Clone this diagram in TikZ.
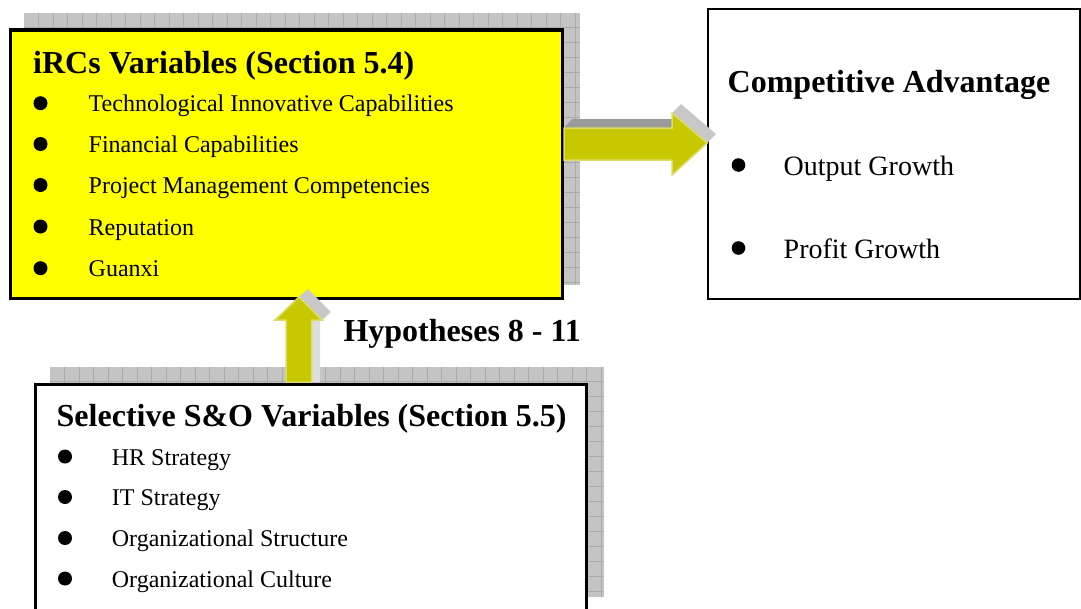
\documentclass[tikz,border=0pt]{standalone}
\usepackage{fontspec}
\setmainfont{Liberation Serif}
\definecolor{gridfill}{HTML}{C4C4C4}
\definecolor{gridline}{HTML}{ABABAB}
\definecolor{boxyellow}{HTML}{FFFF00}
\definecolor{arrowfill}{HTML}{C8C800}
\definecolor{arrowedge}{HTML}{DCDC66}
\definecolor{darkface}{HTML}{9A9A9A}
\definecolor{lightface}{HTML}{C8C8C8}
\definecolor{sideface}{HTML}{DEDEDE}
\begin{document}
\begin{tikzpicture}[x=1pt,y=-1pt,
  shadowgrid/.style={fill=gridfill},
  gridlines/.style={draw=gridline,line width=0.8pt},
  titletext/.style={anchor=base west,inner sep=0pt,font=\fontsize{32}{32}\selectfont\bfseries},
  itemtext/.style={anchor=base west,inner sep=0pt,font=\fontsize{24}{24}\selectfont},
  bigitem/.style={anchor=base west,inner sep=0pt,font=\fontsize{28}{28}\selectfont},
  bulletdot/.style={fill=black},
  arrowbody/.style={fill=arrowfill,draw=arrowedge,line width=1.5pt,line join=miter},
  boxbase/.style={rectangle,anchor=north west,inner sep=0pt,outer sep=0pt}]
\useasboundingbox (0,0) rectangle (1081,608);

% shadows
\fill[shadowgrid] (24,13) rectangle (580,285);
\foreach \xx in {38.5,53,...,580}{\draw[gridlines] (\xx,13) -- (\xx,285);}
\foreach \yy in {27,42,...,285}{\draw[gridlines] (24,\yy) -- (580,\yy);}
\fill[shadowgrid] (50,367) rectangle (603.5,597);
\foreach \xx in {64.5,79,...,603}{\draw[gridlines] (\xx,367) -- (\xx,597);}
\foreach \yy in {381,396,...,597}{\draw[gridlines] (50,\yy) -- (603.5,\yy);}

% boxes
\node[boxbase,draw=black,line width=3.5pt,fill=boxyellow,minimum width=552pt,minimum height=268.5pt] (ircs) at (10.5,30) {};
\node[boxbase,draw=black,line width=2.5pt,fill=white,minimum width=551pt,minimum height=260pt] (sno) at (35.5,384.5) {};
\node[boxbase,draw=black,line width=2pt,fill=white,minimum width=371.5pt,minimum height=290pt] (ca) at (708,9) {};

% right arrow
\fill[darkface] (564,128) -- (572,119) -- (681,119) -- (672,128) -- cycle;
\fill[lightface] (672,113) -- (681,104) -- (716,134) -- (707,143) -- cycle;
\draw[arrowbody] (564,128) -- (672,128) -- (672,113) -- (707,143) -- (672,175) -- (672,160) -- (564,160) -- cycle;

% up arrow
\fill[sideface] (311.5,320) -- (320,313) -- (320,382) -- (311.5,382) -- cycle;
\fill[lightface] (299,297) -- (308,289) -- (331,312) -- (322,320) -- cycle;
\draw[arrowbody] (286,382) -- (286,320) -- (275,320) -- (299,297) -- (322,320) -- (311.5,320) -- (311.5,382) -- cycle;

% iRCs texts
\node[titletext] (t1) at (33,73.3) {iRCs Variables (Section 5.4)};
\foreach \txt/\yy [count=\i] in {Technological Innovative Capabilities/111.7,Financial Capabilities/152.5,Project Management Competencies/193.5,Reputation/235,Guanxi/276.7}{
  \fill[bulletdot] (40.5,\yy-8.5) circle (7);
  \node[itemtext] (ia\i) at (88.5,\yy) {\txt};
}

% competitive advantage
\node[titletext] (t2) at (727.5,92) {Competitive Advantage};
\foreach \txt/\yy [count=\i] in {Output Growth/175,Profit Growth/258}{
  \fill[bulletdot] (738.5,\yy-10) circle (6.8);
  \node[bigitem] (cb\i) at (783.5,\yy) {\txt};
}

% hypotheses
\node[titletext] (hyp) at (343.3,341.7) {Hypotheses 8 - 11};

% S&O texts
\node[titletext] (t3) at (56.5,426.7) {Selective S\&O Variables (Section 5.5)};
\foreach \txt/\yy [count=\i] in {HR Strategy/465,IT Strategy/505.5,Organizational Structure/546.5,Organizational Culture/587}{
  \fill[bulletdot] (65,\yy-8.5) circle (7);
  \node[itemtext] (sc\i) at (111.7,\yy) {\txt};
}
\end{tikzpicture}
\end{document}
